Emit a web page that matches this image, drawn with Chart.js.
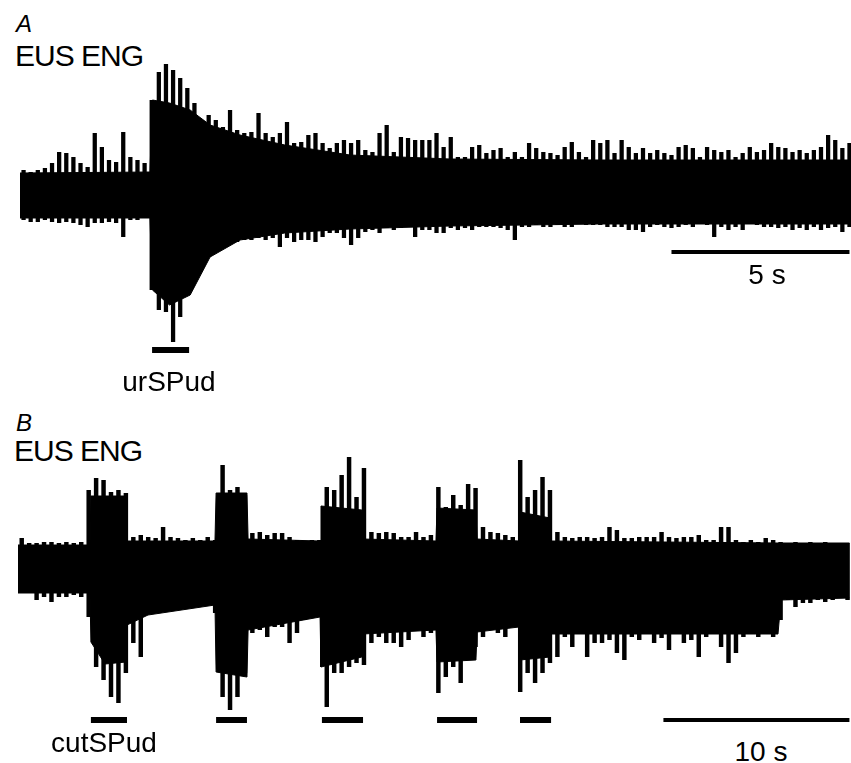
<!DOCTYPE html>
<html lang="en">
<head>
    <meta charset="UTF-8">
    <title>EUS ENG</title>
    <script src="https://cdn.jsdelivr.net/npm/chart.js"></script>
    <style>
        body {
            margin: 0;
            padding: 0;
            background: #fff;
            width: 851px;
            height: 763px;
            position: relative;
            overflow: hidden;
            font-family: "Liberation Sans", Arial, Helvetica, sans-serif;
            color: #000;
        }
        canvas {
            position: absolute;
            left: 0;
        }
        #chartA { top: 50px; }
        #chartB { top: 455px; }
        .lbl {
            position: absolute;
            font-size: 28px;
            line-height: 28px;
            white-space: nowrap;
        }
        .panel {
            font-style: italic;
            font-size: 24px;
            line-height: 24px;
        }
        .title {
            font-size: 30px;
            line-height: 30px;
            letter-spacing: -1px;
        }
        .mid {
            width: 200px;
            text-align: center;
        }
    </style>
</head>
<body>
    <div class="lbl panel" style="left:16px; top:12px;">A</div>
    <div class="lbl title" style="left:15px; top:41px;">EUS ENG</div>
    <canvas id="chartA" width="851" height="320"></canvas>
    <div class="lbl mid" style="left:667px; top:261px;">5 s</div>
    <div class="lbl mid" style="left:69px; top:368px;">urSPud</div>

    <div class="lbl panel" style="left:16px; top:411px;">B</div>
    <div class="lbl title" style="left:14px; top:436px;">EUS ENG</div>
    <canvas id="chartB" width="851" height="280"></canvas>
    <div class="lbl mid" style="left:4px; top:729px;">cutSPud</div>
    <div class="lbl mid" style="left:661px; top:738px;">10 s</div>

    <script>
        // ---- panel A (arbitrary amplitude units, time in s) ----
        // dense part of the trace, read at its break points
        const coreTimeA = [0, 3.65, 3.72, 4.2, 4.78, 5.34, 6.18, 7.44, 9.27, 12.08, 16.29, 23.3];
        const coreUpA   = [22, 23, 95, 92, 85, 70, 60, 50, 40, 36, 35, 35];
        const coreLoA   = [-23, -23, -95, -110, -100, -62, -45, -38, -34, -31, -29, -29];
        // spike peaks, one column every 0.2 s
        const stepA = 0.2;
        const upperA = [
            25, 23, 25, 27, 32, 43, 42, 38, 32, 28,
            62, 48, 35, 33, 63, 38, 35, 32, 95, 123,
            131, 125, 117, 107, 92, 75, 80, 75, 68, 85,
            65, 62, 63, 82, 62, 58, 62, 73, 52, 53,
            60, 62, 52, 47, 52, 55, 52, 55, 45, 43,
            62, 70, 43, 58, 57, 55, 55, 55, 62, 48,
            58, 38, 38, 48, 50, 42, 45, 47, 38, 43,
            38, 52, 47, 43, 42, 40, 48, 53, 43, 38,
            55, 52, 55, 42, 55, 48, 42, 47, 42, 45,
            42, 40, 48, 50, 47, 38, 48, 45, 43, 45,
            38, 42, 48, 43, 45, 52, 48, 47, 43, 45,
            42, 45, 48, 60, 55, 47, 52
        ];
        const lowerA = [
            -25, -27, -27, -25, -27, -28, -27, -28, -30, -32,
            -28, -28, -27, -28, -42, -25, -25, -23, -95, -115,
            -117, -147, -122, -85, -72, -62, -62, -53, -50, -48,
            -47, -45, -45, -43, -45, -43, -52, -43, -47, -45,
            -45, -47, -42, -38, -38, -43, -50, -43, -37, -35,
            -38, -33, -35, -33, -32, -42, -35, -35, -38, -38,
            -33, -35, -33, -35, -32, -32, -32, -33, -35, -45,
            -32, -32, -30, -32, -32, -30, -32, -32, -27, -30,
            -30, -30, -32, -32, -32, -35, -35, -37, -32, -30,
            -32, -33, -32, -30, -32, -28, -30, -42, -32, -35,
            -32, -35, -28, -30, -32, -32, -33, -32, -35, -33,
            -35, -32, -35, -33, -32, -37, -32
        ];
        const stimA = [[3.71, 4.75]];       // urSPud
        const scaleBarA = [18.3, 23.3];      // 5 s

        // ---- panel B ----
        const coreTimeB = [0, 3.87, 3.92, 4.68, 5.81, 5.86, 6.99, 10.59, 10.65, 12.31, 12.37,
                           16.24, 16.29, 18.49, 18.55, 22.47, 22.53, 24.62, 24.68, 26.94, 26.99,
                           28.6, 28.66, 40.86, 41.02, 44.7];
        const coreUpB = [25, 25, 74, 74, 74, 29, 29, 29, 77, 77, 31,
                         29, 64, 60, 31, 29, 62, 60, 31, 29, 58,
                         52, 29, 27, 27, 27];
        const coreLoB = [-23, -23, -72, -94, -92, -55, -45, -35, -102, -107, -60,
                         -47, -97, -87, -64, -60, -92, -90, -62, -57, -90,
                         -87, -64, -64, -30, -28];
        const stepB = 0.4;
        const upperB = [
            32, 27, 27, 28, 28, 27, 28, 27, 28, 80,
            92, 90, 78, 80, 77, 33, 35, 33, 32, 43,
            33, 32, 30, 32, 30, 33, 30, 105, 80, 83,
            75, 37, 38, 35, 37, 37, 33, 30, 28, 30,
            30, 83, 80, 95, 113, 73, 102, 38, 37, 38,
            37, 33, 33, 38, 33, 35, 83, 63, 75, 65,
            86, 82, 43, 38, 37, 35, 33, 110, 73, 80,
            93, 80, 38, 33, 32, 33, 33, 32, 33, 43,
            40, 32, 32, 33, 33, 33, 38, 33, 32, 33,
            33, 35, 30, 30, 43, 43, 30, 28, 30, 28,
            32, 30, 28, 27, 28, 27, 28, 27, 28, 27,
            27, 27
        ];
        const lowerB = [
            -23, -22, -30, -27, -32, -27, -27, -25, -27, -47,
            -97, -110, -127, -133, -103, -73, -87, -43, -40, -40,
            -37, -40, -37, -32, -30, -30, -43, -127, -140, -127,
            -103, -63, -60, -67, -57, -57, -73, -63, -50, -40,
            -40, -137, -103, -103, -97, -93, -95, -73, -67, -73,
            -73, -77, -70, -57, -67, -63, -123, -107, -97, -113,
            -90, -77, -67, -57, -63, -67, -57, -122, -103, -113,
            -103, -93, -87, -67, -77, -60, -87, -73, -73, -70,
            -83, -90, -67, -70, -63, -73, -68, -80, -63, -73,
            -70, -87, -67, -63, -77, -93, -83, -67, -63, -67,
            -60, -67, -50, -30, -37, -33, -33, -30, -32, -30,
            -27, -30
        ];
        const stimB = [[3.92, 5.86], [10.65, 12.31], [16.34, 18.55], [22.53, 24.68], [26.99, 28.66]];   // cutSPud
        const scaleBarB = [34.7, 44.7];      // 10 s

        function points(times, values) {
            return times.map((t, i) => ({ x: t, y: values[i] }));
        }

        function barLine(range, level, width) {
            return {
                type: 'line',
                data: [{ x: range[0], y: level }, { x: range[1], y: level }],
                borderColor: '#000',
                borderWidth: width,
                borderCapStyle: 'butt',
                pointRadius: 0,
                fill: false
            };
        }

        function drawPanel(id, p) {
            const datasets = [
                {
                    type: 'line',
                    data: points(p.coreTime, p.coreUp),
                    borderColor: '#000',
                    borderWidth: 1,
                    backgroundColor: '#000',
                    pointRadius: 0,
                    fill: '+1'
                },
                {
                    type: 'line',
                    data: points(p.coreTime, p.coreLo),
                    borderColor: '#000',
                    borderWidth: 1,
                    pointRadius: 0,
                    fill: false
                },
                {
                    type: 'bar',
                    data: p.upper.map((u, i) => ({ x: p.step / 2 + p.step * i, y: [p.lower[i], u] })),
                    backgroundColor: '#000',
                    borderWidth: 0,
                    barPercentage: 0.6,
                    categoryPercentage: 1
                }
            ];
            p.stims.forEach(s => datasets.push(barLine(s, p.stimLevel, 6)));
            datasets.push(barLine(p.scaleBar, p.scaleLevel, 4));

            return new Chart(document.getElementById(id), {
                type: 'bar',
                data: { datasets: datasets },
                options: {
                    responsive: false,
                    animation: false,
                    layout: { padding: 0 },
                    plugins: { legend: { display: false }, tooltip: { enabled: false } },
                    scales: {
                        x: { type: 'linear', min: p.xRange[0], max: p.xRange[1], offset: false, display: false },
                        y: { min: p.yRange[0], max: p.yRange[1], display: false }
                    }
                }
            });
        }

        // A: 35.6 px per second, trace starts at x = 20
        drawPanel('chartA', {
            coreTime: coreTimeA, coreUp: coreUpA, coreLo: coreLoA,
            upper: upperA, lower: lowerA, step: stepA,
            stims: stimA, stimLevel: -155, scaleBar: scaleBarA, scaleLevel: -57,
            xRange: [-20 / 35.6, 831 / 35.6], yRange: [-175, 145]
        });
        // B: 18.6 px per second, trace starts at x = 18
        drawPanel('chartB', {
            coreTime: coreTimeB, coreUp: coreUpB, coreLo: coreLoB,
            upper: upperB, lower: lowerB, step: stepB,
            stims: stimB, stimLevel: -150, scaleBar: scaleBarB, scaleLevel: -150,
            xRange: [-18 / 18.6, 833 / 18.6], yRange: [-165, 115]
        });
    </script>
</body>
</html>
